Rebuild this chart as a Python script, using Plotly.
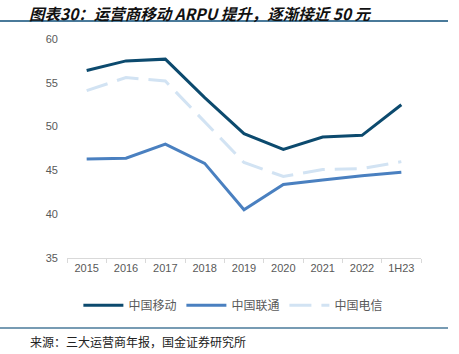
import plotly.graph_objects as go

categories = ["2015", "2016", "2017", "2018", "2019", "2020", "2021", "2022", "1H23"]
mobile = [56.4, 57.5, 57.7, 53.3, 49.2, 47.4, 48.8, 49.0, 52.5]
unicom = [46.3, 46.4, 48.0, 45.8, 40.5, 43.4, 43.9, 44.4, 44.8]
telecom = [54.1, 55.6, 55.2, 50.5, 45.9, 44.3, 45.1, 45.2, 46.0]
names = ["中国移动", "中国联通", "中国电信"]
y_ticks = [35, 40, 45, 50, 55, 60]

font = "Noto Sans CJK SC, Arial, sans-serif"
fig = go.Figure()
fig.add_trace(go.Scatter(x=categories, y=mobile, name=names[0], mode="lines",
                         line=dict(color="#0c4a6e", width=3)))
fig.add_trace(go.Scatter(x=categories, y=unicom, name=names[1], mode="lines",
                         line=dict(color="#4a80c0", width=3)))
fig.add_trace(go.Scatter(x=categories, y=telecom, name=names[2], mode="lines",
                         line=dict(color="#d2e3f3", width=3, dash="22px,10px")))

fig.update_layout(
    width=459, height=354,
    margin=dict(l=67, r=38, t=39, b=96),
    paper_bgcolor="white", plot_bgcolor="white",
    font=dict(family=font, color="#595959", size=11),
    showlegend=True,
    legend=dict(orientation="h", x=0.47, xanchor="center", y=-0.15, yanchor="top",
                font=dict(size=12, color="#595959"), itemwidth=40,
                tracegroupgap=0),
    xaxis=dict(type="category", range=[-0.5, 8.5], tickson="boundaries",
               showline=True, linecolor="#d9d9d9", linewidth=1,
               ticks="outside", ticklen=4, tickcolor="#d9d9d9",
               showgrid=False, tickfont=dict(family="Liberation Sans, Arial", size=11, color="#595959")),
    yaxis=dict(range=[35, 60], tickvals=y_ticks, showgrid=False, zeroline=False,
               showline=False, ticks="", ticklabelstandoff=8,
               tickfont=dict(family="Liberation Sans, Arial", size=11, color="#595959")),
    shapes=[
        dict(type="line", xref="paper", yref="paper",
             x0=-67/354, x1=(448-67)/354, y0=(354-96-21)/219, y1=(354-96-21)/219,
             line=dict(color="#4a7a9a", width=2)),
        dict(type="line", xref="paper", yref="paper",
             x0=-67/354, x1=(448-67)/354, y0=(354-96-328)/219, y1=(354-96-328)/219,
             line=dict(color="#4a7a9a", width=1.5)),
    ],
    annotations=[
        dict(text="<b><i>图表30：运营商移动 ARPU 提升，逐渐接近 50 元</i></b>",
             xref="paper", yref="paper", x=(28-67)/354, y=(354-96-0.5)/219,
             xanchor="left", yanchor="top", showarrow=False, borderpad=0,
             font=dict(family=font, size=15.5, color="#111111")),
        dict(text="来源：三大运营商年报，国金证券研究所",
             xref="paper", yref="paper", x=(28-67)/354, y=(354-96-341)/219,
             xanchor="left", yanchor="middle", showarrow=False,
             font=dict(family=font, size=12, color="#222222")),
    ],
)

fig.write_html("out.html")
